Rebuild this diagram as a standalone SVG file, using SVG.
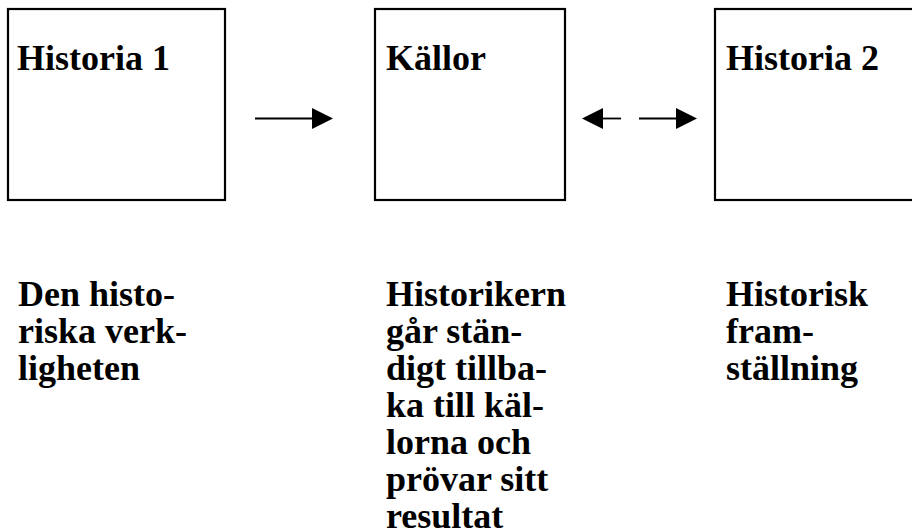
<svg xmlns="http://www.w3.org/2000/svg" width="912" height="532" viewBox="0 0 912 532">
<style>
.box{fill:#fff;stroke:#000;stroke-width:2.2}
.t{font-family:"Liberation Serif","Times New Roman",serif;font-weight:bold;font-size:36px;fill:#000}
.c{stroke:#000;stroke-width:1.8;fill:none}
</style>
<defs>
<marker id="ah" markerUnits="userSpaceOnUse" markerWidth="21" markerHeight="22" refX="0" refY="10.5" orient="auto" viewBox="0 0 21 22">
<path d="M0,0 L21,10.5 L0,21 z" fill="#000"/>
</marker>
</defs>
<rect width="912" height="532" fill="#fff"/>
<g id="historia1">
<rect class="box" x="8" y="9" width="217" height="191"/>
<text class="t" x="17" y="70">Historia 1</text>
</g>
<g id="kallor">
<rect class="box" x="375" y="9" width="190" height="191"/>
<text class="t" x="386" y="70">Källor</text>
</g>
<g id="historia2">
<rect class="box" x="715" y="9" width="220" height="191"/>
<text class="t" x="726" y="70">Historia 2</text>
</g>
<g id="connectors">
<line class="c" x1="255" y1="118.5" x2="312" y2="118.5" marker-end="url(#ah)"/>
<line class="c" x1="621" y1="118.5" x2="603" y2="118.5" marker-end="url(#ah)"/>
<line class="c" x1="639" y1="118.5" x2="676" y2="118.5" marker-end="url(#ah)"/>
</g>
<g id="label-verklighet">
<text class="t" x="18" y="306">Den histo-</text>
<text class="t" x="18" y="343">riska verk-</text>
<text class="t" x="18" y="380">ligheten</text>
</g>
<g id="label-historikern">
<text class="t" x="386" y="306">Historikern</text>
<text class="t" x="386" y="343">går stän-</text>
<text class="t" x="386" y="380">digt tillba-</text>
<text class="t" x="386" y="417">ka till käl-</text>
<text class="t" x="386" y="454">lorna och</text>
<text class="t" x="386" y="491">prövar sitt</text>
<text class="t" x="386" y="528">resultat</text>
</g>
<g id="label-framstallning">
<text class="t" x="726" y="306">Historisk</text>
<text class="t" x="726" y="343">fram-</text>
<text class="t" x="726" y="380">ställning</text>
</g>
</svg>
